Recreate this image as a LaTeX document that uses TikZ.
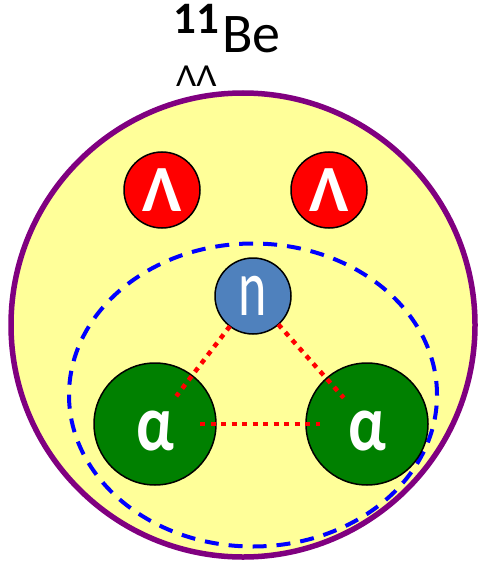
\documentclass[tikz,border=0pt]{standalone}
\usepackage{fontspec}
\setmainfont{Carlito}
\usetikzlibrary{shapes.geometric}
\definecolor{shellpurple}{HTML}{800080}
\definecolor{lightyel}{HTML}{FFFF99}
\definecolor{lamred}{HTML}{FF0000}
\definecolor{nblue}{HTML}{4F81BD}
\definecolor{agreen}{HTML}{008000}
\definecolor{dashblue}{HTML}{0000FF}
\begin{document}
\begin{tikzpicture}[x=1pt,y=-1pt,
  ball/.style={circle, draw=black, line width=1.5pt, inner sep=0pt, text=white},
  lam/.style={ball, fill=lamred, minimum size=76pt, font=\fontsize{66}{66}\selectfont\bfseries},
  neut/.style={ball, fill=nblue, minimum size=76pt, font=\fontsize{54}{54}\selectfont},
  alph/.style={ball, fill=agreen, minimum size=122pt},
  alabel/.style={text=white, inner sep=0pt, yshift=-7pt, font=\fontsize{64}{64}\selectfont\bfseries},
  bond/.style={draw=lamred, line width=4.5pt, dash pattern=on 5pt off 5.5pt},
  corestyle/.style={ellipse, draw=dashblue, line width=4pt, dash pattern=on 14pt off 10pt, inner sep=0pt, minimum width=368pt, minimum height=303pt}
]
\useasboundingbox (0,0) rectangle (479,564);
\node[circle, draw=shellpurple, line width=5.5pt, fill=lightyel, minimum size=464pt, inner sep=0pt] (nucleus) at (243,325) {};
\node[corestyle] (core) at (253,395) {};
\node[lam] (L1) at (162,190) {Λ};
\node[lam] (L2) at (329,190) {Λ};
\node[neut] (n) at (253,296) {\scalebox{1}[1.5]{n}};
\node[alph, label={[alabel]center:\scalebox{1}[1.25]{α}}] (a1) at (155,424) {};
\node[alph, label={[alabel]center:\scalebox{1}[1.25]{α}}] (a2) at (367,424) {};
\draw[bond, shorten <=38pt, shorten >=35pt] (n.center) -- (a1.center);
\draw[bond, shorten <=38pt, shorten >=35pt] (n.center) -- (a2.center);
\draw[bond, shorten <=45pt, shorten >=47pt] (a1.center) -- (a2.center);
\node[anchor=base west, inner sep=0pt, font=\fontsize{56}{56}\selectfont] (be) at (222,53) {Be};
\node[anchor=base east, inner sep=0pt, font=\fontsize{45}{45}\selectfont\bfseries] (mass) at (be.base west) [yshift=19pt, xshift=-3pt] {11};
\node[anchor=base west, inner sep=0pt, font=\fontsize{32}{32}\selectfont] (sub) at (176,87) {\scalebox{1.1}[1]{ΛΛ}};
\end{tikzpicture}
\end{document}
